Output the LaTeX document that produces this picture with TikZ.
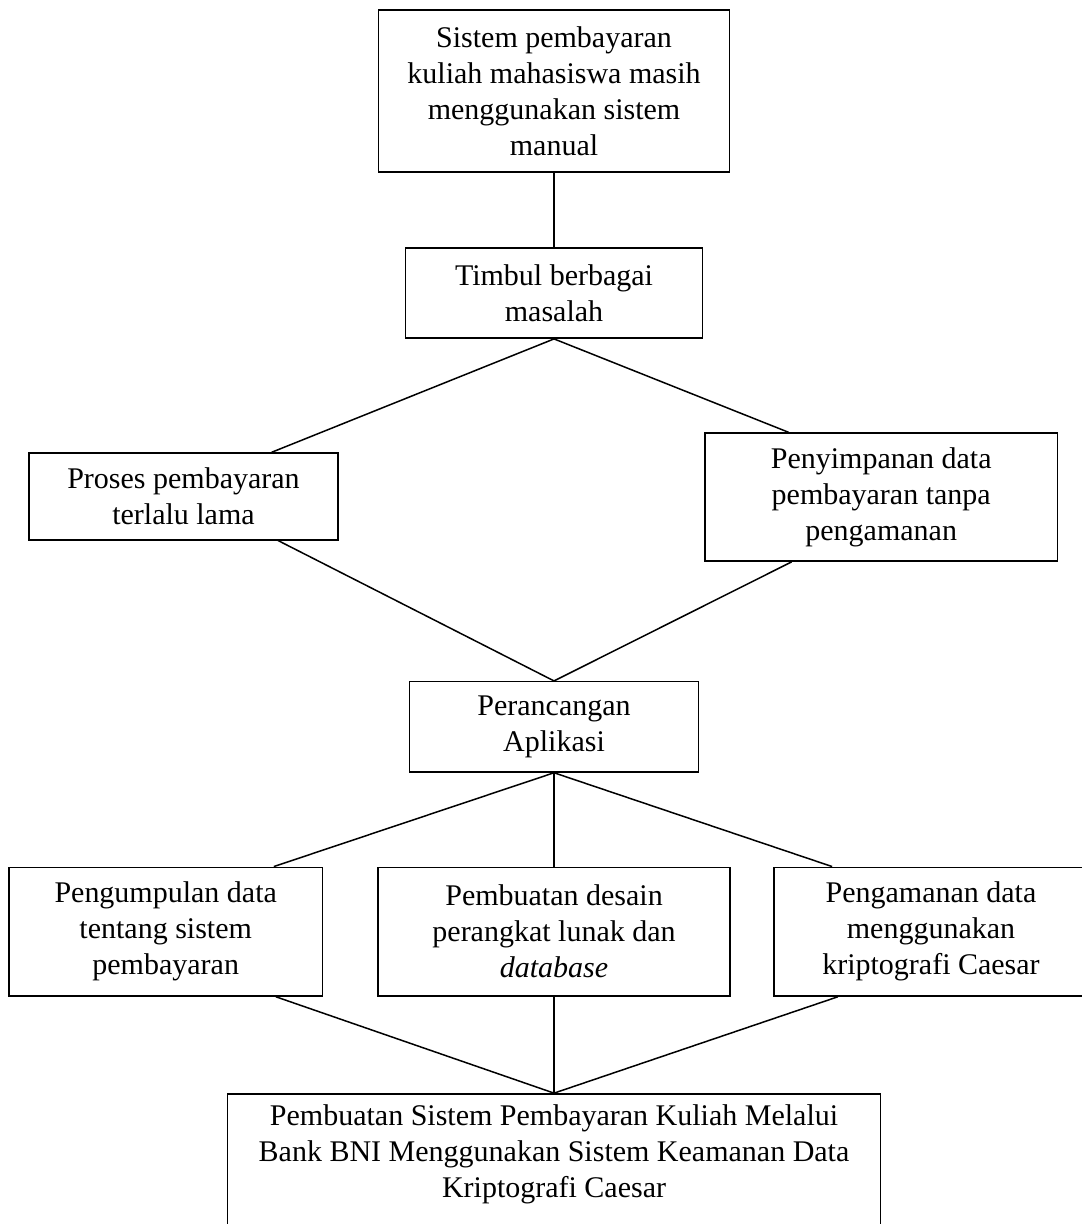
\documentclass[tikz,border=0pt]{standalone}
\usepackage{fontspec}
\setmainfont{Liberation Serif}
\usepackage{tikz}

\begin{document}
\begin{tikzpicture}[kotak/.style={draw, line width=0.6pt, align=center, inner sep=0pt, font=\fontsize{12}{14.4}\selectfont}, garis/.style={line width=0.6pt}]

    \useasboundingbox (0,0) rectangle (15.20,17.21);

    \node[kotak, minimum width=4.93cm, minimum height=2.28cm] at (7.79,15.93) (Sistem) {Sistem pembayaran\\kuliah mahasiswa masih\\menggunakan sistem\\manual};
    \node[kotak, minimum width=4.18cm, minimum height=1.27cm] at (7.79,13.09) (Timbul) {Timbul berbagai\\masalah};
    \node[kotak, minimum width=4.34cm, minimum height=1.22cm] at (2.58,10.23) (Proses) {Proses pembayaran\\terlalu lama};
    \node[kotak, minimum width=4.96cm, minimum height=1.80cm] at (12.39,10.22) (Simpan) {Penyimpanan data\\pembayaran tanpa\\pengamanan};
    \node[kotak, minimum width=4.06cm, minimum height=1.27cm] at (7.79,6.99) (Rancang) {Perancangan\\Aplikasi};
    \node[kotak, minimum width=4.41cm, minimum height=1.81cm] at (2.33,4.11) (Kumpul) {Pengumpulan data\\tentang sistem\\pembayaran};
    \node[kotak, minimum width=4.95cm, minimum height=1.81cm] at (7.79,4.11) (Desain) {Pembuatan desain\\perangkat lunak dan\\\textit{database}};
    \node[kotak, minimum width=4.41cm, minimum height=1.81cm] at (13.09,4.11) (Aman) {Pengamanan data\\menggunakan\\kriptografi Caesar};
    \node[kotak, anchor=north, minimum width=9.18cm, minimum height=2.28cm] at (7.79,1.84) (Hasil) {Pembuatan Sistem Pembayaran Kuliah Melalui\\Bank BNI Menggunakan Sistem Keamanan Data\\Kriptografi Caesar\\ \strut};

    \draw[garis] (Sistem.south) -- (Timbul.north);
    \draw[garis] (Timbul.south) -- ([xshift=1.24cm]Proses.north);
    \draw[garis] (Timbul.south) -- ([xshift=-1.30cm]Simpan.north);
    \draw[garis] ([xshift=1.33cm]Proses.south) -- (Rancang.north);
    \draw[garis] ([xshift=-1.26cm]Simpan.south) -- (Rancang.north);
    \draw[garis] (Rancang.south) -- ([xshift=1.52cm]Kumpul.north);
    \draw[garis] (Rancang.south) -- (Desain.north);
    \draw[garis] (Rancang.south) -- ([xshift=-1.39cm]Aman.north);
    \draw[garis] ([xshift=1.55cm]Kumpul.south) -- (Hasil.north);
    \draw[garis] (Desain.south) -- (Hasil.north);
    \draw[garis] ([xshift=-1.31cm]Aman.south) -- (Hasil.north);

\end{tikzpicture}
\end{document}
